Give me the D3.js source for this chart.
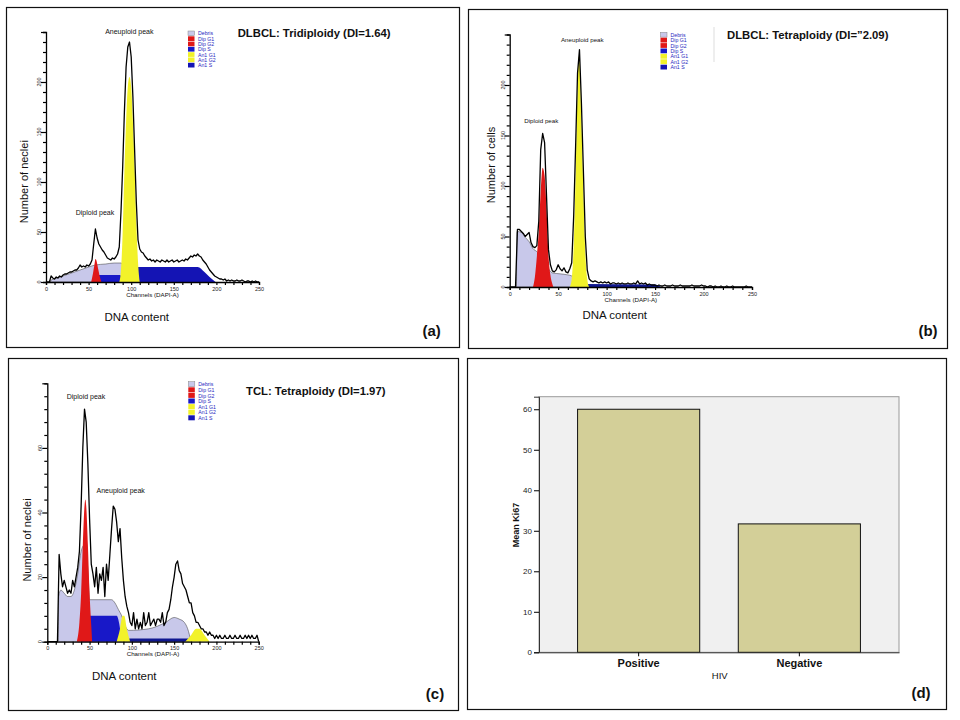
<!DOCTYPE html>
<html>
<head>
<meta charset="utf-8">
<script src="https://cdn.jsdelivr.net/npm/d3@7"></script>
<style>
  body { margin: 0; background: #fff; }
  svg { font-family: "Liberation Sans", Arial, sans-serif; }
</style>
</head>
<body>
<div id="viz"></div>
<script>
// histogram counts, one value per 2-channel bin starting at channel 0
var binWidth = 2;
var countsA = [
  0,0,0,6,4,3,5,4,6,5,
  7,8,8,9,10,10,11,12,12,14,
  17,15,16,15,17,16,18,22,38,53,
  44,38,35,32,30,27,24,23,22,24,
  23,25,28,35,70,115,170,215,235,240,
  225,185,132,80,42,33,30,29,26,24,
  22,23,21,22,20,22,21,20,22,21,
  20,22,20,21,22,20,21,22,20,21,
  22,21,23,22,24,26,25,27,26,28,
  26,25,22,20,18,15,12,10,8,6,
  5,4,3,3,2,3,1,2,1,2,
  1,1,2,1,1,2,1,0,1,1,
  0,1,0,1,0,0];
var countsB = [
  0,0,0,0,57,57,55,53,50,52,
  54,44,40,39,41,65,136,152,143,90,
  37,22,16,15,17,22,18,16,19,15,
  14,18,24,70,139,212,235,182,116,50,
  17,8,6,5,6,5,4,5,4,5,
  4,5,3,4,4,3,4,3,4,3,
  3,4,3,3,4,3,6,3,4,3,
  4,2,3,2,2,2,1,2,1,1,
  2,1,1,1,2,1,1,1,2,1,
  1,1,1,1,2,1,1,1,1,2,
  1,1,0,1,1,0,1,0,0,1,
  0,0,1,0,0,1,0,0,0,0,
  0,0,1,0,0,0];
var countsC = [
  0,0,0,0,0,0,0,27,21,17,
  19,17,15,16,15,19,17,20,23,28,
  42,60,72,68,55,38,24,21,17,23,
  15,21,19,23,14,24,19,27,35,42,
  41,37,31,35,26,19,14,11,9,6,
  5,9,4,7,4,6,4,9,5,6,
  9,5,6,7,5,7,7,6,9,5,
  6,9,10,13,17,20,24,25,22,21,
  18,17,16,14,12,12,9,8,6,6,
  5,4,4,3,3,2,3,2,2,1,
  2,1,2,1,1,2,1,1,2,1,
  1,2,1,1,2,1,1,2,1,2,
  1,2,1,1,2,0];

// fitted components [channel, count]
var debrisA = [[5,0],[6,2],[10,3],[20,6],[30,9],[40,12],[50,15],[58,17],[70,18],[80,19],[88,19],[92,12],[95,0]];
var dipSA   = [[58,0],[61,7],[87,7],[90,0]];
var an1SA   = [[90,0],[98,6],[104,13],[108,15],[178,15],[186,10],[192,5],[199,0]];
var dipG1A  = [[53,0],[55,8],[57,18],[58,23],[59,22],[61,14],[63,6],[65,0]];
var an1G1A  = [[86,0],[88,12],[90,50],[92,110],[94,160],[96,195],[98,205],[100,195],[102,160],[104,115],[106,60],[108,20],[110,0]];

var debrisB = [[7,0],[7.5,55],[12,54],[16,49],[20,45],[24,38],[28,35],[32,30],[36,25],[40,18],[44,14],[52,13],[60,12],[64,11],[68,5],[72,0]];
var dipG1B  = [[24,0],[26,10],[28,30],[30,55],[32,95],[34,118],[36,110],[38,78],[40,32],[42,12],[44,3],[45,0]];
var an1G1B  = [[62,0],[64,8],[66,40],[68,110],[70,195],[71,228],[72,226],[74,165],[76,95],[78,35],[80,8],[82,0]];
var an1SB   = [[74,0],[78,3],[150,2.5],[156,0]];

var debrisC = [[13,0],[13.5,14],[16,16],[20,15],[24,14],[28,14],[32,16],[36,21],[40,28],[44,30],[48,22],[50,13],[60,13],[76,13],[80,12],[84,10],[88,8],[92,5],[96,3.5],[120,4],[140,6],[150,7.5],[156,7],[162,6],[166,4],[170,0]];
var dipG1C  = [[35,0],[38,6],[40,15],[42,30],[44,42],[45,44],[46,42],[48,30],[50,15],[52,5],[53,0]];
var dipSC   = [[41,0],[44,6],[46,8],[82,8],[86,4],[88,0]];
var an1G1C  = [[82,0],[86,4],[89,8],[91,8],[94,4],[98,0]];
var an1SC   = [[96,0],[97,1],[167,1],[168,0]];
var an1G2C  = [[163,0],[170,2],[176,4],[180,4],[186,2],[192,0]];

var legendNames = ["Debris","Dip G1","Dip G2","Dip S","An1 G1","An1 G2","An1 S"];
var xTickLabels = [0,50,100,150,200,250];

// bar chart
var hivGroups = ["Positive","Negative"];
var meanKi67 = [60, 31.7];
var kiTicks = [0,10,20,30,40,50,60];

var col = {debris:"#c8c8ea", dipG1:"#e01818", dipG2:"#e01818", dipS:"#1818c8",
           an1G1:"#f2f22a", an1G2:"#f2f22a", an1S:"#1414b4"};
var legendCols = [col.debris, col.dipG1, col.dipG2, col.dipS, col.an1G1, col.an1G2, col.an1S];

var svg = d3.select("#viz").append("svg")
  .attr("width", 960).attr("height", 720);

// panel frames
[[6.5,7.5,453,340],[468.5,9.5,479,339],[8.5,358.5,450,352],[467.5,358.5,479,351]].forEach(function(r) {
  svg.append("rect").attr("x", r[0]).attr("y", r[1]).attr("width", r[2]).attr("height", r[3])
    .attr("fill", "none").attr("stroke", "#111").attr("stroke-width", 1.2);
});

function txt(x, y, s, size, opt) {
  opt = opt || {};
  var t = svg.append("text").attr("x", x).attr("y", y).text(s)
    .attr("font-size", size)
    .attr("text-anchor", opt.anchor || "middle")
    .attr("fill", opt.fill || "#111");
  if (opt.bold) t.attr("font-weight", "bold");
  if (opt.rotate) t.attr("transform", "rotate(-90," + x + "," + y + ")");
  return t;
}

function histogram(p) {
  var x = d3.scaleLinear().domain([0, 250]).range([p.left, p.right]);
  var y = d3.scaleLinear().domain([0, p.ymax]).range([p.base, p.top]);
  var g = svg.append("g");

  var area = d3.area().curve(d3.curveMonotoneX)
    .x(function(d) { return x(d[0]); })
    .y0(y(0)).y1(function(d) { return y(d[1]); });

  p.parts.forEach(function(pt) {
    g.append("path").datum(pt.data).attr("d", area)
      .attr("fill", pt.color)
      .attr("stroke", pt.stroke || "none").attr("stroke-width", 0.5);
  });

  // data trace
  var line = d3.line()
    .x(function(d, i) { return x(i * binWidth); })
    .y(function(d) { return y(d); });
  g.append("path").datum(p.counts).attr("d", line)
    .attr("fill", "none").attr("stroke", "#000").attr("stroke-width", 1.3)
    .attr("stroke-linejoin", "round");

  // x axis
  var xa = g.append("g").attr("transform", "translate(0," + p.base + ")")
    .call(d3.axisBottom(x).tickValues(d3.range(0, 251, 10)).tickSize(3)
      .tickFormat(function(d) { return xTickLabels.indexOf(d) >= 0 ? d : ""; }));
  xa.select(".domain").attr("stroke", "#000").attr("stroke-width", 1.3);
  xa.selectAll("line").attr("stroke-width", 1.2);
  xa.selectAll("text").attr("font-size", 5.5).attr("font-family", "Liberation Sans, Arial")
    .attr("dy", "0.5em").attr("fill", "#222");

  // y axis
  var ya = g.append("g").attr("transform", "translate(" + p.left + ",0)")
    .call(d3.axisLeft(y).tickValues(d3.range(0, p.ymax + 1, p.yStep)).tickSize(3).tickFormat(""));
  ya.select(".domain").attr("stroke", "#000").attr("stroke-width", 1.3);
  ya.selectAll(".tick line").attr("stroke-width", 1.2)
    .attr("x2", function(d) { return d % p.yLabelStep === 0 ? -5 : -3; });
  d3.range(0, p.ymax, p.yLabelStep).forEach(function(v) {
    var lx = p.left - 7, ly = y(v);
    g.append("text").attr("x", lx).attr("y", ly).attr("dy", "0.35em")
      .attr("font-size", 5.5).attr("text-anchor", "middle").attr("fill", "#222")
      .attr("transform", "rotate(-90," + lx + "," + ly + ")").text(v);
  });

  // legend
  legendNames.forEach(function(n, i) {
    var ly = p.legY + i * p.legRow;
    g.append("rect").attr("x", p.legX).attr("y", ly).attr("width", 6.5).attr("height", p.legRow - 0.6)
      .attr("fill", legendCols[i]).attr("stroke", i === 0 ? "#888" : "none").attr("stroke-width", 0.5);
    g.append("text").attr("x", p.legX + 10).attr("y", ly + p.legRow - 1)
      .attr("font-size", 5.2).attr("fill", "#2626c0").text(n);
  });

  txt((p.left + p.right) / 2, p.base + 14.5, "Channels (DAPI-A)", 6.2);
}

histogram({
  left: 46, right: 259, base: 282, top: 32, ymax: 250, yStep: 10, yLabelStep: 50,
  counts: countsA, legX: 188, legY: 31, legRow: 5.3,
  parts: [
    {data: debrisA, color: col.debris, stroke: "#333"},
    {data: dipSA, color: col.dipS},
    {data: an1SA, color: col.an1S},
    {data: dipG1A, color: col.dipG1},
    {data: an1G1A, color: col.an1G1}
  ]
});
histogram({
  left: 509.7, right: 752, base: 287, top: 34.5, ymax: 250, yStep: 10, yLabelStep: 50,
  counts: countsB, legX: 660.5, legY: 32.3, legRow: 5.4,
  parts: [
    {data: debrisB, color: col.debris, stroke: "#333"},
    {data: an1SB, color: "#101890"},
    {data: dipG1B, color: col.dipG1},
    {data: an1G1B, color: col.an1G1}
  ]
});
histogram({
  left: 47.3, right: 258.7, base: 641.7, top: 383.3, ymax: 80, yStep: 4, yLabelStep: 20,
  counts: countsC, legX: 188.3, legY: 381.7, legRow: 5.6,
  parts: [
    {data: debrisC, color: col.debris, stroke: "#333"},
    {data: dipSC, color: col.dipS},
    {data: an1SC, color: "#101890"},
    {data: dipG1C, color: col.dipG1},
    {data: an1G1C, color: col.an1G1},
    {data: an1G2C, color: col.an1G2}
  ]
});

// annotations panel (a)
txt(237.7, 37.3, "DLBCL: Tridiploidy (DI=1.64)", 11.3, {anchor: "start", bold: true});
txt(129.3, 34.3, "Aneuploid peak", 7);
txt(95, 215.3, "Diploid peak", 7);
txt(28.5, 181.7, "Number of neclei", 11, {rotate: true});
txt(136.7, 320.7, "DNA content", 11.5);
txt(431.7, 335.5, "(a)", 15, {bold: true});

// panel (b)
svg.append("line").attr("x1", 714).attr("x2", 714).attr("y1", 27).attr("y2", 62)
  .attr("stroke", "#ddd").attr("stroke-width", 1);
txt(727, 39.3, "DLBCL: Tetraploidy (DI=\u201D2.09)", 11.3, {anchor: "start", bold: true});
txt(582.3, 42.3, "Aneuploid peak", 6.2);
txt(541.3, 123.3, "Diploid peak", 6.2);
txt(494.5, 165, "Number of cells", 11, {rotate: true});
txt(614.7, 319, "DNA content", 11.5);
txt(928, 335.5, "(b)", 15, {bold: true});

// panel (c)
txt(246, 395, "TCL: Tetraploidy (DI=1.97)", 11.3, {anchor: "start", bold: true});
txt(86, 398.5, "Diploid peak", 7);
txt(120.7, 492.8, "Aneuploid peak", 7);
txt(30.5, 540, "Number of neclei", 11, {rotate: true});
txt(124.3, 680, "DNA content", 11.5);
txt(435, 699, "(c)", 15, {bold: true});

// panel (d) bar chart
var bx = d3.scaleBand().domain(hivGroups).range([539, 899]).paddingInner(0.24).paddingOuter(0.24);
var by = d3.scaleLinear().domain([0, 63.1]).range([652.3, 396.7]);

svg.append("rect").attr("x", 539).attr("y", 396.7).attr("width", 360).attr("height", 652.3 - 396.7)
  .attr("fill", "#f0f0f0").attr("stroke", "#9a9a9a").attr("stroke-width", 1);

svg.append("g").selectAll("rect").data(meanKi67).enter().append("rect")
  .attr("x", function(d, i) { return bx(hivGroups[i]); })
  .attr("y", function(d) { return by(d); })
  .attr("width", bx.bandwidth())
  .attr("height", function(d) { return by(0) - by(d); })
  .attr("fill", "#d3cf98").attr("stroke", "#111").attr("stroke-width", 1);

var yAx = svg.append("g").attr("transform", "translate(539,0)")
  .call(d3.axisLeft(by).tickValues(kiTicks).tickSize(5).tickPadding(2));
yAx.select(".domain").attr("stroke", "#333");
yAx.selectAll("text").attr("font-size", 8).attr("font-family", "Liberation Sans, Arial").attr("fill", "#222");

var xAx = svg.append("g").attr("transform", "translate(0,652.3)")
  .call(d3.axisBottom(bx).tickSize(4).tickPadding(3).tickSizeOuter(0));
xAx.select(".domain").attr("stroke", "#333");
xAx.selectAll("text").attr("font-size", 11).attr("font-weight", "bold")
  .attr("font-family", "Liberation Sans, Arial").attr("fill", "#111");

txt(719.7, 679, "HIV", 9.5);
txt(519, 525, "Mean Ki67", 9, {rotate: true, bold: true});
txt(921, 697.5, "(d)", 15, {bold: true});
</script>
</body>
</html>
